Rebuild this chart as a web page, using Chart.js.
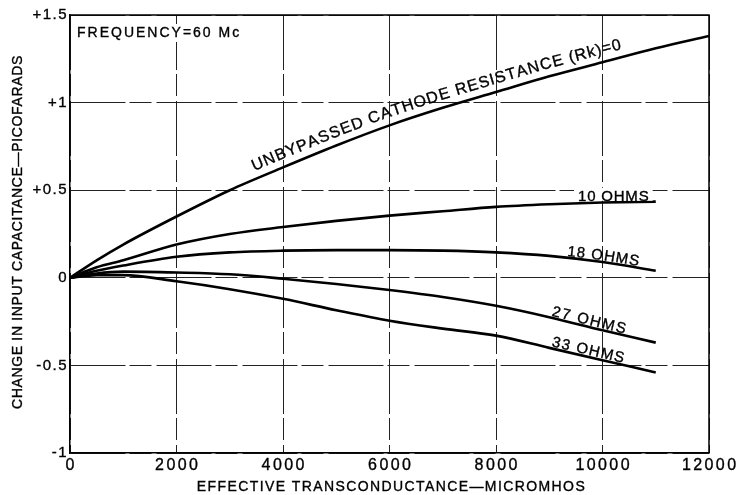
<!DOCTYPE html>
<html>
<head>
<meta charset="utf-8">
<script src="https://cdn.jsdelivr.net/npm/chart.js@4/dist/chart.umd.min.js"></script>
<style>
  html, body { margin: 0; padding: 0; background: #fff; }
  #wrap { width: 738px; height: 495px; }
</style>
</head>
<body>
<div id="wrap"><canvas id="capChart" width="738" height="495"></canvas></div>
<script>
// DATA
const gmLong = [0, 500, 1000, 2000, 3000, 4000, 5000, 6000, 7000, 8000, 9000, 10000, 11000, 12000];
const gmShort = [0, 500, 1000, 2000, 3000, 4000, 5000, 6000, 7000, 8000, 9000, 10000, 11000];

const rk0 = [0, 0.10, 0.19, 0.35, 0.50, 0.63, 0.755, 0.87, 0.97, 1.06, 1.15, 1.23, 1.31, 1.38];
const rk10 = [0, 0.06, 0.10, 0.19, 0.25, 0.29, 0.325, 0.355, 0.38, 0.405, 0.42, 0.43, 0.435];
const rk18 = [0, 0.04, 0.07, 0.12, 0.145, 0.155, 0.158, 0.158, 0.155, 0.145, 0.125, 0.09, 0.04];
const rk27 = [0, 0.025, 0.035, 0.03, 0.02, -0.005, -0.035, -0.07, -0.11, -0.16, -0.225, -0.30, -0.37];
const rk33 = [0, 0.015, 0.015, -0.02, -0.065, -0.12, -0.185, -0.245, -0.29, -0.33, -0.40, -0.47, -0.54];

const yTicks = [-1, -0.5, 0, 0.5, 1, 1.5];
const yTickLabels = ['-1', '-0.5', '0', '+0.5', '+1', '+1.5'];
const xTicks = [0, 2000, 4000, 6000, 8000, 10000, 12000];
const xTickLabels = ['0', '2000', '4000', '6000', '8000', '10000', '12000'];

const xTitle = 'EFFECTIVE TRANSCONDUCTANCE—MICROMHOS';
const yTitle = 'CHANGE IN INPUT CAPACITANCE—PICOFARADS';
const note = 'FREQUENCY=60 Mc';

// curve labels: text, series, start x (data), offset above curve (px)
const curveLabels = [
  { text: 'UNBYPASSED CATHODE RESISTANCE (Rk)=0', series: 0, start: 3520, off: 8, size: 16, gap: 1.0 },
  { text: '10 OHMS', series: 1, start: 9540, off: 1.5, size: 15, gap: 0.8, flat: true },
  { text: '18 OHMS', series: 2, start: 9330, off: 2, size: 15, gap: 1.0 },
  { text: '27 OHMS', series: 3, start: 9030, off: 2, size: 15, gap: 1.6 },
  { text: '33 OHMS', series: 4, start: 9030, off: 2, size: 15, gap: 1.3 }
];

function toPoints(xs, ys) {
  return ys.map((y, i) => ({ x: xs[i], y: y }));
}

const seriesList = [
  toPoints(gmLong, rk0),
  toPoints(gmShort, rk10),
  toPoints(gmShort, rk18),
  toPoints(gmShort, rk27),
  toPoints(gmShort, rk33)
];

const FONT = '"Liberation Sans", Arial, sans-serif';

// y value on a series at data x (linear between points)
function seriesAt(pts, xv) {
  for (let i = 1; i < pts.length; i++) {
    if (xv <= pts[i].x) {
      const a = pts[i - 1], b = pts[i];
      const t = (xv - a.x) / (b.x - a.x);
      return a.y + t * (b.y - a.y);
    }
  }
  return pts[pts.length - 1].y;
}

// lettering: fill plus a thin stroke to get the pen look
function letter(ctx, str, x, y) {
  ctx.fillText(str, x, y);
  ctx.strokeText(str, x, y);
}

const textPlugin = {
  id: 'curveText',
  afterDatasetsDraw(chart) {
    const ctx = chart.ctx;
    const xs = chart.scales.x, ys = chart.scales.y;
    const area = chart.chartArea;
    const yPix = (pts, px) => ys.getPixelForValue(seriesAt(pts, xs.getValueForPixel(px)));

    ctx.save();
    ctx.fillStyle = '#000';
    ctx.strokeStyle = '#000';
    ctx.lineWidth = 0.35;

    // frame top / right
    ctx.save();
    ctx.lineWidth = 1.5;
    ctx.beginPath();
    ctx.moveTo(area.left, area.top);
    ctx.lineTo(area.right, area.top);
    ctx.lineTo(area.right, area.bottom);
    ctx.stroke();
    ctx.restore();

    // curve labels
    ctx.textBaseline = 'alphabetic';
    ctx.textAlign = 'center';
    curveLabels.forEach(lab => {
      const pts = seriesList[lab.series];
      ctx.font = lab.size + 'px ' + FONT;
      ctx.letterSpacing = '0px';
      let px = xs.getPixelForValue(lab.start);
      if (lab.flat) {
        const w = ctx.measureText(lab.text).width + lab.gap * (lab.text.length - 1);
        const y0 = yPix(pts, px + w / 2) - lab.off;
        ctx.fillStyle = '#fff';
        ctx.fillRect(px - 4, y0 - lab.size + 2, w + 8, lab.size - 2);
        ctx.fillStyle = '#000';
        ctx.textAlign = 'left';
        ctx.letterSpacing = lab.gap + 'px';
        letter(ctx, lab.text, px, y0);
        ctx.letterSpacing = '0px';
        ctx.textAlign = 'center';
        return;
      }
      for (const ch of lab.text) {
        const w = ctx.measureText(ch).width;
        const a1 = Math.atan2(yPix(pts, px + 2) - yPix(pts, px - 2), 4);
        const cx = px + (w / 2) * Math.cos(a1);
        const ang = Math.atan2(yPix(pts, cx + 2) - yPix(pts, cx - 2), 4);
        const cy = yPix(pts, cx);
        ctx.save();
        ctx.translate(cx + lab.off * Math.sin(ang), cy - lab.off * Math.cos(ang));
        ctx.rotate(ang);
        letter(ctx, ch, 0, 0);
        ctx.restore();
        px += (w + lab.gap) * Math.cos(ang);
      }
    });

    // frequency note
    ctx.font = '14px ' + FONT;
    ctx.letterSpacing = '2px';
    ctx.textAlign = 'left';
    ctx.textBaseline = 'middle';
    ctx.fillStyle = '#fff';
    ctx.fillRect(74, 24, 174, 18);
    ctx.fillStyle = '#000';
    letter(ctx, note, 77, 33);

    // y tick labels
    ctx.font = '15px ' + FONT;
    ctx.letterSpacing = '1.5px';
    ctx.textAlign = 'right';
    yTicks.forEach((v, i) => {
      letter(ctx, yTickLabels[i], area.left - 2, ys.getPixelForValue(v));
    });

    // x tick labels
    ctx.font = '16px ' + FONT;
    ctx.letterSpacing = '2.4px';
    ctx.textAlign = 'center';
    xTicks.forEach((v, i) => {
      letter(ctx, xTickLabels[i], xs.getPixelForValue(v) + 1.2, area.bottom + 13);
    });

    // axis titles
    ctx.font = '14px ' + FONT;
    ctx.letterSpacing = '1.4px';
    letter(ctx, xTitle, (area.left + area.right) / 2 + 2, 487);

    ctx.save();
    ctx.translate(18, (area.top + area.bottom) / 2 - 2);
    ctx.rotate(-Math.PI / 2);
    ctx.letterSpacing = '0.65px';
    letter(ctx, yTitle, 0, 0);
    ctx.restore();

    ctx.restore();
  }
};

const ctx = document.getElementById('capChart');

const gridDash = [55, 4, 22, 5];

const myChart = new Chart(ctx, {
  type: 'line',
  data: {
    datasets: seriesList.map(pts => ({
      data: pts,
      borderColor: '#000',
      borderWidth: 2.6,
      pointRadius: 0,
      fill: false,
      cubicInterpolationMode: 'monotone'
    }))
  },
  options: {
    responsive: false,
    animation: false,
    layout: { padding: { top: 15, right: 29, left: 0, bottom: 0 } },
    plugins: { legend: { display: false }, tooltip: { enabled: false } },
    scales: {
      x: {
        type: 'linear',
        min: 0,
        max: 12000,
        afterBuildTicks: s => { s.ticks = xTicks.map(v => ({ value: v })); },
        afterFit: s => { s.height = 42; },
        border: { color: '#000', width: 1.5, dash: gridDash },
        grid: { color: '#222', lineWidth: 1, drawTicks: false },
        ticks: { display: false }
      },
      y: {
        type: 'linear',
        min: -1,
        max: 1.5,
        afterBuildTicks: s => { s.ticks = yTicks.map(v => ({ value: v })); },
        afterFit: s => { s.width = 70; },
        border: { color: '#000', width: 1.5, dash: gridDash },
        grid: { color: '#222', lineWidth: 1, drawTicks: false },
        ticks: { display: false }
      }
    }
  },
  plugins: [textPlugin]
});
</script>
</body>
</html>
